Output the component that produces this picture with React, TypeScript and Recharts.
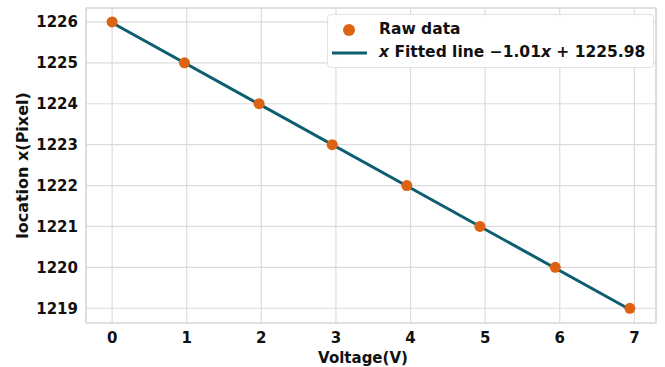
import {
	ComposedChart,
	CartesianGrid,
	Legend,
	Line,
	ReferenceArea,
	Scatter,
	XAxis,
	YAxis,
} from 'recharts'

const voltage = [0, 0.97, 1.97, 2.95, 3.95, 4.93, 5.94, 6.94]
const location = [1226, 1225, 1224, 1223, 1222, 1221, 1220, 1219]

const fitVoltage = [0, 6.94]
const fitLocation = [1225.98, 1218.97]

const xTicks = [0, 1, 2, 3, 4, 5, 6, 7]
const yTicks = [1219, 1220, 1221, 1222, 1223, 1224, 1225, 1226]

const xDomain = [-0.35, 7.29]
const yDomain = [1218.64, 1226.34]

const rawData = voltage.map((v, i) => ({ v, loc: location[i] }))
const fitData = fitVoltage.map((v, i) => ({ v, loc: fitLocation[i] }))

const font = '"DejaVu Sans", sans-serif'
const orange = '#dd6211'
const teal = '#0d5f6f'
const tickStyle = { fill: '#111', fontFamily: font, fontWeight: 'bold', fontSize: 15 }

const LegendBox = () => (
	<div
		style={{
			fontFamily: font,
			fontWeight: 'bold',
			fontSize: 15.5,
			color: '#111',
			background: 'rgba(255,255,255,0.9)',
			border: '1px solid #e2e2e2',
			borderRadius: 4,
			padding: '3px 8px 3px 3px',
			lineHeight: '23px',
			whiteSpace: 'nowrap',
		}}
	>
		<div style={{ display: 'flex', alignItems: 'center' }}>
			<svg width={38} height={14}>
				<circle cx={18} cy={7} r={6} fill={orange} />
			</svg>
			<span style={{ marginLeft: 10 }}>Raw data</span>
		</div>
		<div style={{ display: 'flex', alignItems: 'center' }}>
			<svg width={38} height={14}>
				<line x1={1} y1={7} x2={36} y2={7} stroke={teal} strokeWidth={3} />
			</svg>
			<span style={{ marginLeft: 10 }}>
				<i>x</i> Fitted line −1.01<i>x</i> + 1225.98
			</span>
		</div>
	</div>
)

const Dot = (props: any) => <circle cx={props.cx} cy={props.cy} r={5.5} fill={orange} />

export default function App() {
	return (
		<div style={{ position: 'absolute', left: 0, top: 0, background: '#fff' }}>
			<ComposedChart
				width={665}
				height={367}
				margin={{ top: 8, right: 9, bottom: 0, left: 0 }}
			>
				<CartesianGrid stroke='#dcdcdc' strokeWidth={1.2} />
				<ReferenceArea
					x1={xDomain[0]}
					x2={xDomain[1]}
					y1={yDomain[0]}
					y2={yDomain[1]}
					fill='none'
					stroke='#d4d4d4'
					strokeWidth={1.2}
				/>
				<XAxis
					type='number'
					dataKey='v'
					domain={xDomain}
					ticks={xTicks}
					allowDataOverflow
					axisLine={false}
					tickLine={false}
					tickSize={0}
					tickMargin={9}
					height={44}
					tick={tickStyle}
					label={{
						value: 'Voltage(V)',
						position: 'insideBottom',
						offset: 4,
						dx: -8,
						style: { ...tickStyle },
					}}
				/>
				<YAxis
					type='number'
					dataKey='loc'
					domain={yDomain}
					ticks={yTicks}
					allowDataOverflow
					axisLine={false}
					tickLine={false}
					tickSize={0}
					tickMargin={8}
					width={86}
					tick={tickStyle}
					label={{
						value: 'location x(Pixel)',
						angle: -90,
						position: 'insideLeft',
						offset: 22,
						style: { ...tickStyle, fontSize: 16, textAnchor: 'middle' },
					}}
				/>
				<Scatter
					name='Raw data'
					data={rawData}
					fill={orange}
					shape={Dot}
					isAnimationActive={false}
				/>
				<Line
					name='Fitted line'
					data={fitData}
					dataKey='loc'
					stroke={teal}
					strokeWidth={3}
					dot={false}
					activeDot={false}
					isAnimationActive={false}
				/>
				<Legend
					layout='vertical'
					align='center'
					verticalAlign='middle'
					content={() => <LegendBox />}
					wrapperStyle={{ left: 327, top: 14, width: 'auto' }}
				/>
			</ComposedChart>
		</div>
	)
}
